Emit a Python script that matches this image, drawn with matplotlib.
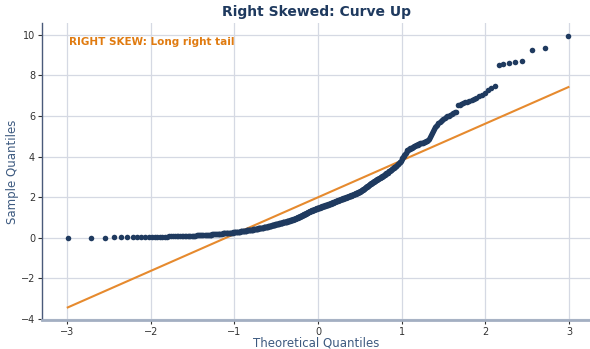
import matplotlib
matplotlib.use('Agg')
import matplotlib.pyplot as plt
import numpy as np
from statistics import NormalDist

# sorted sample values (500 points)
sample_values = [
    # 1..20
    0.00, 0.01, 0.01, 0.02, 0.02, 0.02, 0.03, 0.03, 0.03, 0.04,
    0.04, 0.04, 0.05, 0.05, 0.05, 0.06, 0.06, 0.06, 0.07, 0.07,
    # 21..40
    0.07, 0.07, 0.08, 0.08, 0.08, 0.08, 0.09, 0.09, 0.09, 0.09,
    0.10, 0.10, 0.10, 0.11, 0.11, 0.11, 0.12, 0.12, 0.12, 0.13,
    # 41..60
    0.13, 0.13, 0.14, 0.14, 0.14, 0.15, 0.15, 0.15, 0.16, 0.16,
    0.16, 0.17, 0.17, 0.18, 0.18, 0.18, 0.19, 0.19, 0.20, 0.20,
    # 61..80
    0.21, 0.21, 0.21, 0.22, 0.22, 0.22, 0.23, 0.23, 0.23, 0.24,
    0.24, 0.24, 0.25, 0.25, 0.26, 0.26, 0.26, 0.27, 0.27, 0.28,
    # 81..100
    0.28, 0.28, 0.29, 0.29, 0.30, 0.30, 0.31, 0.31, 0.32, 0.32,
    0.33, 0.33, 0.34, 0.34, 0.35, 0.35, 0.36, 0.36, 0.37, 0.38,
    # 101..120
    0.38, 0.38, 0.39, 0.39, 0.40, 0.40, 0.40, 0.41, 0.41, 0.42,
    0.42, 0.43, 0.43, 0.43, 0.44, 0.44, 0.45, 0.45, 0.46, 0.46,
    # 121..140
    0.47, 0.47, 0.48, 0.48, 0.49, 0.49, 0.50, 0.50, 0.51, 0.51,
    0.52, 0.52, 0.53, 0.53, 0.54, 0.55, 0.55, 0.56, 0.57, 0.58,
    # 141..160
    0.58, 0.59, 0.59, 0.60, 0.61, 0.61, 0.62, 0.63, 0.63, 0.64,
    0.64, 0.65, 0.66, 0.66, 0.67, 0.68, 0.68, 0.69, 0.70, 0.70,
    # 161..180
    0.71, 0.71, 0.72, 0.73, 0.73, 0.74, 0.75, 0.75, 0.76, 0.76,
    0.77, 0.78, 0.78, 0.79, 0.79, 0.80, 0.80, 0.81, 0.81, 0.82,
    # 181..200
    0.83, 0.84, 0.84, 0.85, 0.86, 0.87, 0.87, 0.88, 0.89, 0.90,
    0.90, 0.91, 0.92, 0.93, 0.94, 0.94, 0.95, 0.96, 0.97, 0.98,
    # 201..225
    0.99, 1.00, 1.01, 1.02, 1.03, 1.04, 1.05, 1.06, 1.07, 1.08,
    1.09, 1.10, 1.11, 1.12, 1.13, 1.14, 1.15, 1.16, 1.17, 1.18,
    1.19, 1.20, 1.22, 1.23, 1.24,
    # 226..250
    1.25, 1.26, 1.27, 1.28, 1.29, 1.30, 1.31, 1.32, 1.33, 1.34,
    1.35, 1.36, 1.37, 1.37, 1.38, 1.39, 1.40, 1.41, 1.42, 1.42,
    1.43, 1.44, 1.45, 1.46, 1.47,
    # 251..275
    1.47, 1.48, 1.49, 1.49, 1.50, 1.51, 1.52, 1.52, 1.53, 1.54,
    1.55, 1.55, 1.56, 1.57, 1.58, 1.58, 1.59, 1.60, 1.61, 1.61,
    1.62, 1.63, 1.64, 1.64, 1.65,
    # 276..300
    1.66, 1.67, 1.68, 1.68, 1.69, 1.70, 1.71, 1.71, 1.72, 1.73,
    1.74, 1.75, 1.75, 1.76, 1.77, 1.78, 1.79, 1.79, 1.80, 1.81,
    1.82, 1.83, 1.84, 1.85, 1.86,
    # 301..325
    1.86, 1.87, 1.88, 1.89, 1.89, 1.90, 1.91, 1.92, 1.93, 1.94,
    1.95, 1.95, 1.96, 1.97, 1.98, 1.99, 2.00, 2.00, 2.01, 2.02,
    2.03, 2.04, 2.05, 2.05, 2.06,
    # 326..350
    2.07, 2.08, 2.09, 2.10, 2.11, 2.12, 2.13, 2.14, 2.15, 2.16,
    2.17, 2.18, 2.19, 2.20, 2.21, 2.22, 2.23, 2.24, 2.26, 2.27,
    2.28, 2.30, 2.31, 2.33, 2.35,
    # 351..375
    2.36, 2.38, 2.40, 2.41, 2.43, 2.45, 2.47, 2.48, 2.50, 2.52,
    2.54, 2.55, 2.57, 2.59, 2.61, 2.63, 2.64, 2.66, 2.68, 2.69,
    2.71, 2.73, 2.75, 2.77, 2.79,
    # 376..400
    2.80, 2.82, 2.83, 2.85, 2.86, 2.88, 2.90, 2.91, 2.93, 2.95,
    2.96, 2.98, 3.00, 3.01, 3.03, 3.05, 3.07, 3.09, 3.11, 3.13,
    3.15, 3.17, 3.19, 3.21, 3.24,
    # 401..420
    3.27, 3.29, 3.31, 3.33, 3.36, 3.38, 3.40, 3.43, 3.45, 3.48,
    3.50, 3.53, 3.56, 3.59, 3.62, 3.65, 3.68, 3.72, 3.76, 3.80,
    # 421..440
    3.86, 3.92, 3.98, 4.03, 4.08, 4.14, 4.20, 4.26, 4.31, 4.35,
    4.37, 4.39, 4.41, 4.43, 4.45, 4.47, 4.49, 4.51, 4.53, 4.55,
    # 441..460
    4.57, 4.59, 4.61, 4.63, 4.65, 4.67, 4.68, 4.69, 4.71, 4.72,
    4.76, 4.79, 4.82, 4.88, 4.95, 5.05, 5.15, 5.25, 5.35, 5.45,
    # 461..480
    5.52, 5.58, 5.65, 5.72, 5.78, 5.82, 5.85, 5.89, 5.94, 5.98,
    6.02, 6.06, 6.10, 6.14, 6.18, 6.22, 6.52, 6.56, 6.60, 6.64,
    # 481..492
    6.67, 6.70, 6.74, 6.79, 6.85, 6.91, 6.97, 7.04, 7.16, 7.26,
    7.37, 7.49,
    # 493..500 upper tail
    8.52, 8.57, 8.60, 8.64, 8.70, 9.26, 9.36, 9.95,
]

x_ticks = [-3, -2, -1, 0, 1, 2, 3]
y_ticks = [-4, -2, 0, 2, 4, 6, 8, 10]

NAVY = '#1f3a5f'
ORANGE = '#e68a2e'
LABEL = '#3d5a80'

# theoretical normal quantiles (Filliben plotting positions, like scipy probplot)
y = np.sort(np.array(sample_values))
n = len(y)
m = (np.arange(1, n + 1) - 0.3175) / (n + 0.365)
m[-1] = 0.5 ** (1.0 / n)
m[0] = 1 - m[-1]
nd = NormalDist()
theo = np.array([nd.inv_cdf(p) for p in m])

slope, intercept = np.polyfit(theo, y, 1)

fig = plt.figure(figsize=(5.9, 3.49), dpi=100)
ax = fig.add_axes([0.0712, 0.083, 0.9288, 0.852])

ax.plot(theo, y, 'o', color=NAVY, ms=4.0, mew=0, zorder=3)
xl = np.array([theo.min(), theo.max()])
ax.plot(xl, slope * xl + intercept, color=ORANGE, lw=1.5, zorder=2)

ax.set_xlim(-3.3, 3.25)
ax.set_ylim(-4.05, 10.6)
ax.set_xticks(x_ticks)
ax.set_yticks(y_ticks)
ax.tick_params(labelsize=7, length=3, width=0.8, pad=2, colors='#333333')

ax.grid(True, color='#d5d9e3', lw=0.9)
ax.set_axisbelow(True)
for s in ('top', 'right'):
    ax.spines[s].set_visible(False)
ax.spines['left'].set_color('#4a5a7a')
ax.spines['left'].set_linewidth(1.0)
ax.spines['bottom'].set_color('#a3afc2')
ax.spines['bottom'].set_linewidth(2.0)

ax.set_title('Right Skewed: Curve Up', fontsize=10, fontweight='bold',
             color=NAVY, pad=5)
ax.set_xlabel('Theoretical Quantiles', fontsize=8.5, color=LABEL, labelpad=0)
ax.set_ylabel('Sample Quantiles', fontsize=8.5, color=LABEL, labelpad=1)

ax.text(0.05, 0.935, 'RIGHT SKEW: Long right tail', transform=ax.transAxes,
        ha='left', va='center', fontsize=7.5, fontweight='bold', color='#e07b10')

fig.savefig('out.png', dpi=100, facecolor='white')
print("Saved: out.png")
